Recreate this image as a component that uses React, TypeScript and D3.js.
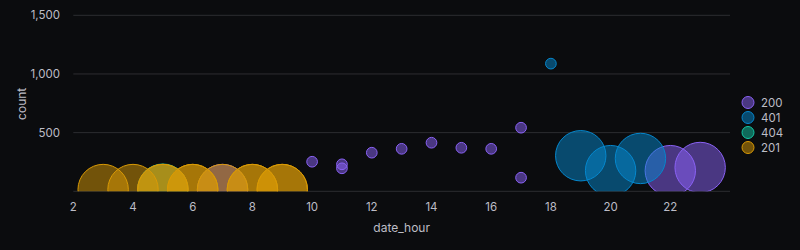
import React from "react";
import * as d3 from "d3";

const W = 800;
const H = 250;

// status series: hour, count, size
const seriesNames = ["200", "401", "404", "201"];
const seriesColors = ["#8a62f5", "#0587cd", "#14c8a6", "#d99a05"];

const hours200 = [7, 10, 11, 11, 12, 13, 14, 15, 16, 17, 17, 22, 23];
const counts200 = [15, 252, 230, 196, 329, 362, 414, 371, 362, 542, 116, 176, 203];
const sizes200 = [100, 4.5, 4.5, 4.5, 4.5, 4.5, 4.5, 4.5, 4.5, 4.5, 4.5, 100, 100];

const hours401 = [18, 19, 20, 21];
const counts401 = [1088, 303, 176, 280];
const sizes401 = [4.5, 100, 100, 100];

const hours404 = [5];
const counts404 = [18];
const sizes404 = [100];

const hours201 = [3, 4, 5, 5, 6, 6, 7, 8, 8, 9, 9];
const counts201 = [15, 15, 15, 15, 15, 15, 15, 15, 15, 15, 15];
const sizes201 = [100, 100, 100, 100, 100, 100, 100, 100, 100, 100, 100];

const xTicks = [2, 4, 6, 8, 10, 12, 14, 16, 18, 20, 22];
const yTicks = [0, 500, 1000, 1500];

const seriesHours = [hours200, hours401, hours404, hours201];
const seriesCounts = [counts200, counts401, counts404, counts201];
const seriesSizes = [sizes200, sizes401, sizes404, sizes201];

export default function App() {
  const left = 73.3;
  const right = 730;
  const top = 15.3;
  const bottom = 191.3;
  const x = d3.scaleLinear().domain([2, 24]).range([left, right]);
  const y = d3.scaleLinear().domain([0, 1500]).range([bottom, top]);
  const r = d3.scaleSqrt().domain([0, 100]).range([0, 25.2]);
  const fmt = d3.format(",");
  const font = "Inter, 'Noto Sans', sans-serif";
  const textColor = "#bdbdc6";

  return (
    <div style={{ position: "fixed", left: 0, top: 0, width: W, height: H, background: "#0b0c0e" }}>
      <svg width={W} height={H} style={{ display: "block" }} fontFamily={font}>
        <rect width={W} height={H} fill="#0b0c0e" />
        <defs>
          <clipPath id="plotClip">
            <rect x={left} y={top - 40} width={right - left + 40} height={bottom - top + 40} />
          </clipPath>
        </defs>
        {yTicks.map((t) => (
          <line key={"g" + t} x1={left} x2={right} y1={y(t)} y2={y(t)} stroke="#2c2d31" strokeWidth={1} />
        ))}
        {yTicks.filter((t) => t > 0).map((t) => (
          <text key={"yl" + t} x={60} y={y(t)} dy="0.35em" textAnchor="end" fontSize={11.5} fill={textColor}>
            {fmt(t)}
          </text>
        ))}
        {xTicks.map((t) => (
          <text key={"xl" + t} x={x(t)} y={211} textAnchor="middle" fontSize={11.5} fill={textColor}>
            {t}
          </text>
        ))}
        <text x={(left + right) / 2} y={232} textAnchor="middle" fontSize={12} fill={textColor}>
          date_hour
        </text>
        <text
          transform={`translate(26, ${(top + bottom) / 2 + 0.5}) rotate(-90)`}
          textAnchor="middle"
          fontSize={12}
          fill={textColor}
        >
          count
        </text>
        <g clipPath="url(#plotClip)">
          {seriesNames.map((name, si) =>
            seriesHours[si].map((h, i) => (
              <circle
                key={name + "-" + i}
                cx={x(h)}
                cy={y(seriesCounts[si][i])}
                r={r(seriesSizes[si][i])}
                fill={seriesColors[si]}
                fillOpacity={0.5}
                stroke={seriesColors[si]}
                strokeWidth={1}
              />
            ))
          )}
        </g>
        {seriesNames.map((name, si) => (
          <g key={"lg" + name} transform={`translate(748, ${102.5 + si * 15})`}>
            <circle r={6} fill={seriesColors[si]} fillOpacity={0.5} stroke={seriesColors[si]} strokeWidth={1} />
            <text x={13} dy="0.35em" fontSize={11.5} fill={textColor}>
              {name}
            </text>
          </g>
        ))}
      </svg>
    </div>
  );
}
